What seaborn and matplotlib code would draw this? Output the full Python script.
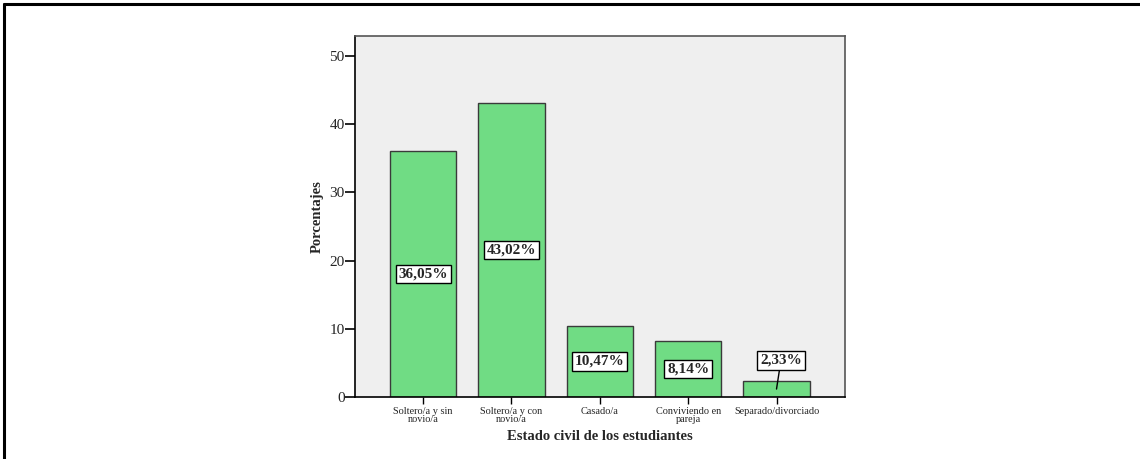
import matplotlib
matplotlib.use("Agg")
import matplotlib.pyplot as plt
import seaborn as sns
import pandas as pd
from matplotlib.lines import Line2D

categorias = ["Soltero/a y sin\nnovio/a", "Soltero/a y con\nnovio/a", "Casado/a",
              "Conviviendo en\npareja", "Separado/divorciado"]
porcentajes = [36.05, 43.02, 10.47, 8.14, 2.33]
etiquetas = ["36,05%", "43,02%", "10,47%", "8,14%", "2,33%"]
yticks = [0, 10, 20, 30, 40, 50]

df = pd.DataFrame({"estado": categorias, "pct": porcentajes})

sns.set_style("ticks")
plt.rcParams["font.family"] = ["Liberation Serif", "DejaVu Serif"]

fig = plt.figure(figsize=(11.4, 4.59), dpi=100)
ax = fig.add_axes([355 / 1140, 1 - 397 / 459, 490 / 1140, 361 / 459])
ax.set_facecolor("#EFEFEF")

sns.barplot(data=df, x="estado", y="pct", color="#70DC84", saturation=1,
            width=0.75, edgecolor="#3A3A3A", linewidth=1.0, ax=ax, zorder=2)

ax.set_xlim(-0.77, 4.775)
ax.set_ylim(0, 52.9)
ax.set_yticks(yticks)
ax.set_yticklabels([str(t) for t in yticks], fontsize=11)
ax.tick_params(axis="y", length=7, width=1.2, color="black", pad=0.5)
ax.tick_params(axis="x", length=5, width=1.0, color="black", labelsize=7.4, pad=2)
for lbl in ax.get_xticklabels():
    lbl.set_linespacing(0.95)

for side in ["top", "right"]:
    ax.spines[side].set_color("#555555")
    ax.spines[side].set_linewidth(1.2)
ax.spines["left"].set_color("black")
ax.spines["left"].set_linewidth(1.2)
ax.spines["bottom"].set_color("black")
ax.spines["bottom"].set_linewidth(1.2)

ax.set_xlabel("Estado civil de los estudiantes", fontsize=10.5, fontweight="bold", labelpad=4)
ax.set_ylabel("Porcentajes", fontsize=10.5, fontweight="bold", labelpad=4)

caja = dict(boxstyle="square,pad=0.18", facecolor="white", edgecolor="black", linewidth=1)
for i, (v, t) in enumerate(zip(porcentajes, etiquetas)):
    if v < 5:
        ax.annotate(t, xy=(i, v / 2), xytext=(i + 0.05, v / 2 + 4.2),
                    ha="center", va="center", fontsize=11, fontweight="bold",
                    bbox=caja, zorder=4,
                    arrowprops=dict(arrowstyle="-", color="black", lw=1,
                                    shrinkA=0, shrinkB=0))
    else:
        ax.text(i, v / 2, t, ha="center", va="center", fontsize=11,
                fontweight="bold", bbox=caja, zorder=4)

# outer frame (left and top edges)
fig.add_artist(Line2D([4 / 1140, 4 / 1140], [0, 1 - 4 / 459], color="black",
                      lw=2.2, transform=fig.transFigure))
fig.add_artist(Line2D([4 / 1140, 1], [1 - 4 / 459, 1 - 4 / 459], color="black",
                      lw=2.2, transform=fig.transFigure))

fig.savefig("out.png", dpi=100)
